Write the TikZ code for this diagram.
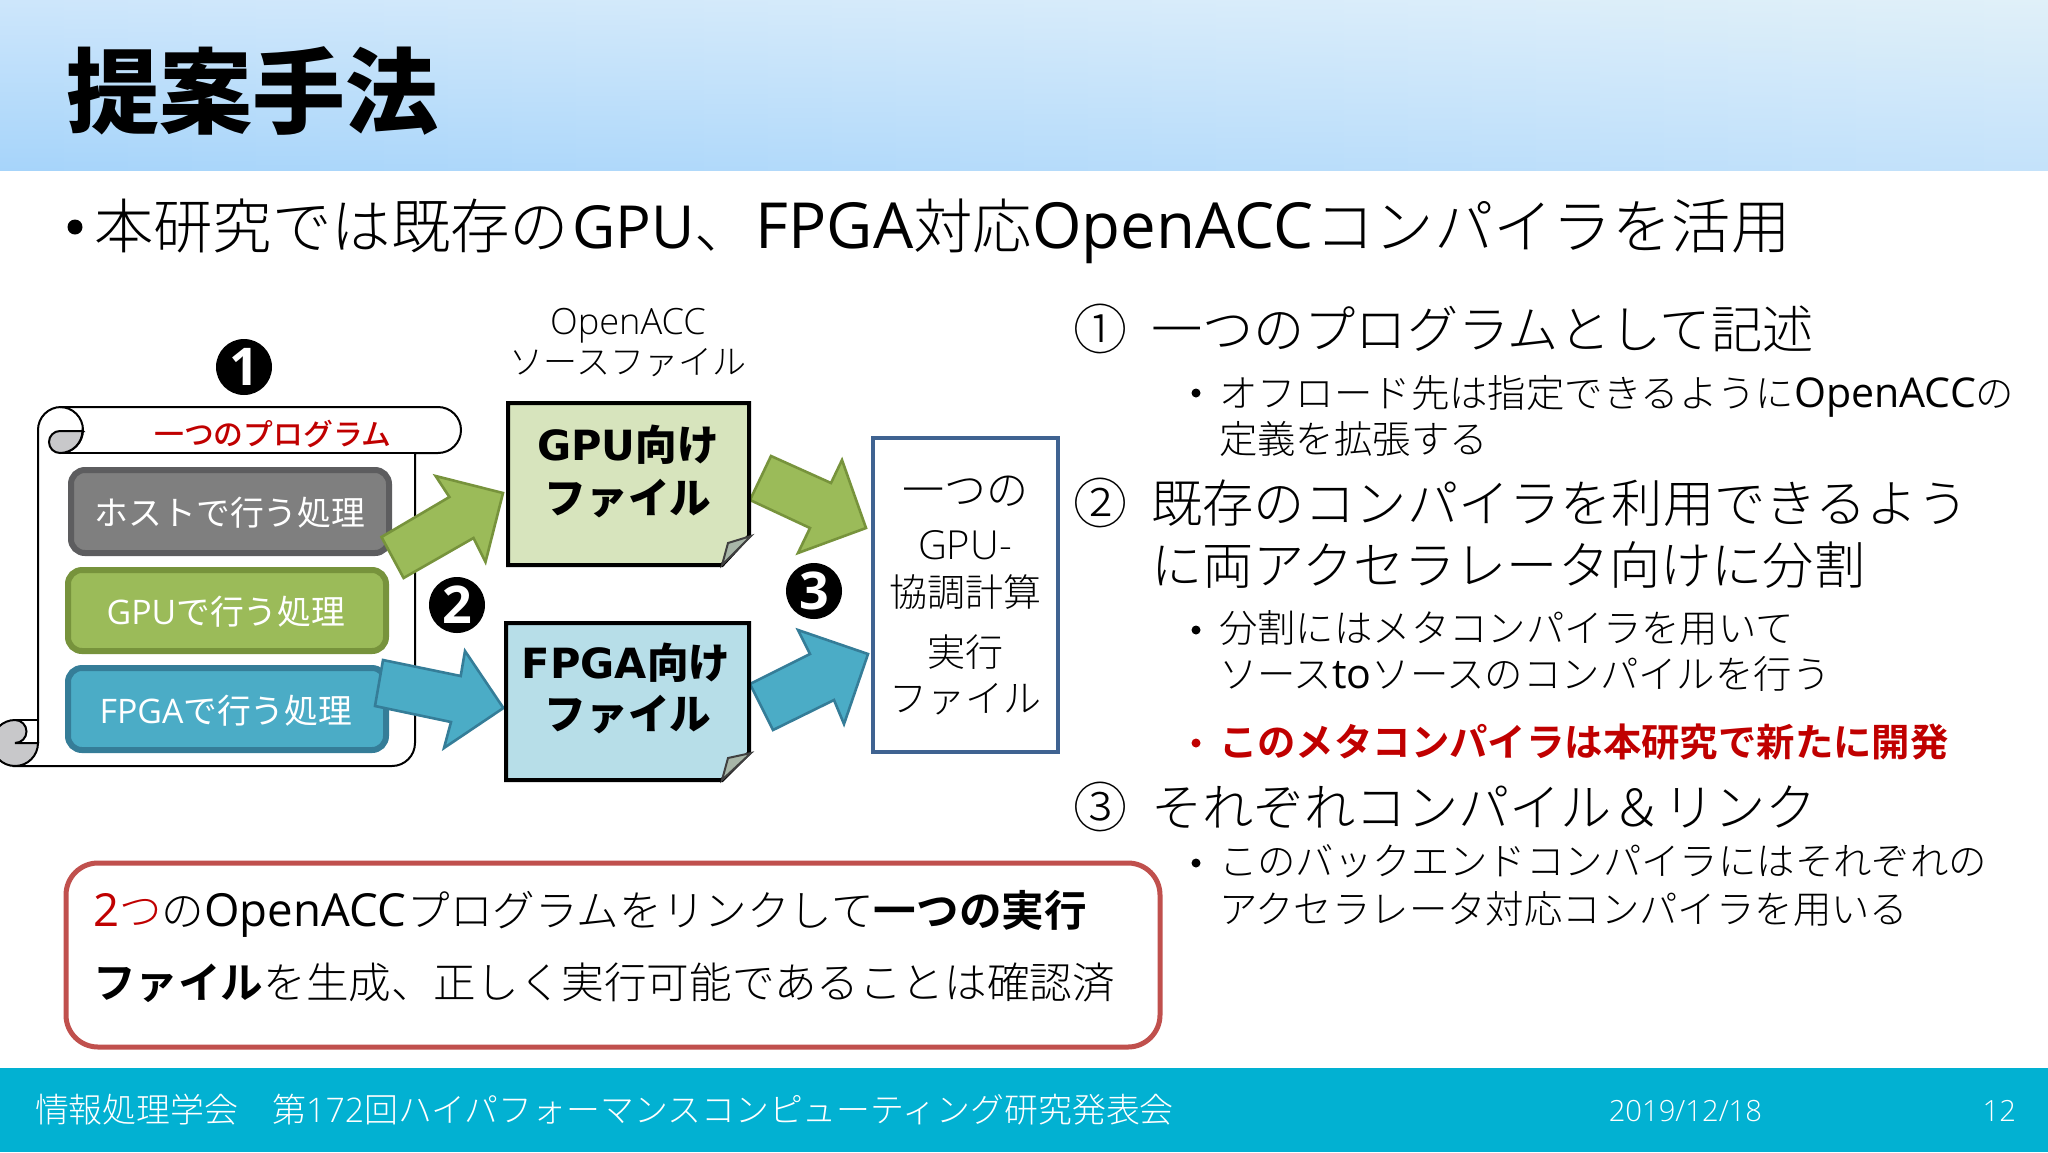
\documentclass[tikz,border=0pt]{standalone}
\usepackage{fontspec}
\setmainfont{Noto Sans CJK JP}[UprightFont=* Light,BoldFont=* Bold]
\newfontfamily\jpr{Noto Sans CJK JP}
\newfontfamily\jpm{Noto Sans CJK JP Medium}
\newfontfamily\jpk{Noto Sans CJK JP Black}
\newfontfamily\enz{Open Sans}
\newfontfamily\en{Open Sans}[Scale=1.07]
\newfontfamily\enl{Open Sans Light}
\newfontfamily\enb{Open Sans}[UprightFont=* Bold]
\newfontfamily\dvb{DejaVu Sans}[UprightFont=* Bold]
\definecolor{hdLT}{HTML}{CDE6FB}
\definecolor{hdLB}{HTML}{A6D4FA}
\definecolor{hdRT}{HTML}{E0F0F9}
\definecolor{hdRB}{HTML}{C4E2FA}
\definecolor{foot}{HTML}{02B1D2}
\definecolor{greyF}{HTML}{7F7F7F}
\definecolor{greyS}{HTML}{5D5D5F}
\definecolor{greenF}{HTML}{9BBB59}
\definecolor{greenS}{HTML}{77933C}
\definecolor{blueF}{HTML}{4BACC6}
\definecolor{blueS}{HTML}{357D98}
\definecolor{fileG}{HTML}{D7E4BD}
\definecolor{fileB}{HTML}{B7DEE8}
\definecolor{foldC}{HTML}{A8B6A8}
\definecolor{execS}{HTML}{3F6391}
\definecolor{redS}{HTML}{C0504D}
\definecolor{redT}{HTML}{C00000}
\definecolor{curl}{HTML}{C8C8CA}
\tikzset{
  jt/.style={inner sep=0pt,outer sep=0pt,font=\fontsize{#1}{#1}\selectfont,text height=0.88*#1 pt,text depth=0.12*#1 pt},
  filetxt/.style={inner sep=0pt,outer sep=0pt,font=\jpk\fontsize{20.8}{20.8}\selectfont,text height=18.3pt,text depth=2.5pt},
  procbox/.style={rounded corners=7pt,line width=3pt},
  filebox/.style={draw=black,line width=2pt,line join=miter},
  foldtri/.style={draw=black!75,fill=foldC,line width=1pt},
  blockG/.style={fill=greenF,draw=greenS,line width=1.3pt,line join=miter},
  blockB/.style={fill=blueF,draw=blueS,line width=1.3pt,line join=miter},
  numdot/.style={circle,fill=black,text=white,inner sep=0pt,minimum size=28pt,font=\enb\fontsize{26}{26}\selectfont},
  scrollline/.style={draw=black,line width=1pt},
}
\begin{document}
\begin{tikzpicture}[x=0.5pt,y=0.5pt,yscale=-1]
\useasboundingbox (0,0) rectangle (2048,1152);
\fill[white] (0,0) rectangle (2048,1152);
% header: a diagonal sheen, darkest at the bottom left, lightest at the top right
\foreach \i in {0,...,31}{
  \pgfmathsetmacro{\p}{(\i+0.5)*100/32}
  \pgfmathsetmacro{\xa}{\i*64}
  \pgfmathsetmacro{\xb}{\xa+66}
  \shade[top color=hdRT!\p!hdLT,bottom color=hdRB!\p!hdLB] (\xa,0) rectangle (\xb,170);
}
\fill[foot] (0,1068) rectangle (2048,1152);

\node[jt=46.5,anchor=west,font=\jpk\fontsize{46.5}{46.5}\selectfont] (title) at (66,91) {提案手法};
\fill[black] (75,227) circle[radius=7.5];
\node[jt=29.7,anchor=west] (lead) at (94,226) {本研究では既存の\hspace{1.5pt}{\enz GPU}、\hspace{1pt}{\en FPGA}対応{\en OpenACC}\hspace{1pt}コンパイラを活用};

% scroll
\path[scrollline,fill=white] (38,430) arc[start angle=180,end angle=270,radius=23] -- (438,407) arc[start angle=-90,end angle=90,radius=23] -- (415,453) -- (415,743) arc[start angle=0,end angle=90,radius=23] -- (15,766) -- (38,743) -- cycle;
\path[scrollline] (60,453) -- (438,453);
\path[scrollline] (60,407) arc[start angle=-90,end angle=90,radius=23];
\path[scrollline,fill=curl] (83,431) -- (60,431) arc[start angle=-90,end angle=-270,radius=11] arc[start angle=90,end angle=0,radius=22.5] -- cycle;
\path[scrollline] (38,720) -- (15,720);
\path[scrollline,fill=curl] (15,720) arc[start angle=-90,end angle=90,radius=11.5] -- (38,743) arc[start angle=0,end angle=90,radius=23] arc[start angle=90,end angle=270,radius=23] -- cycle;
\path[scrollline] (15,766) -- (392,766);

\node[jt=14.9,anchor=center,text=redT,font=\jpm\fontsize{14.9}{14.9}\selectfont] (prog) at (273,434) {一つのプログラム};

% process boxes
\draw[procbox,draw=greyS,fill=greyF] (71,470) rectangle (389,553);
\node[jt=16.9,text=white,font=\jpr\fontsize{16.9}{16.9}\selectfont] (host) at (230,513) {ホストで行う処理};
\draw[procbox,draw=greenS,fill=greenF] (68,570) rectangle (386,651);
\node[jt=16.9,text=white,font=\jpr\fontsize{16.9}{16.9}\selectfont] (gpuproc) at (226,612) {{\enz GPU}で行う処理};
\draw[procbox,draw=blueS,fill=blueF] (68,668) rectangle (386,750);
\node[jt=16.9,text=white,font=\jpr\fontsize{16.9}{16.9}\selectfont] (fpgaproc) at (226,711) {{\enz FPGA}で行う処理};

% block arrows
\path[blockG] (381.5,537) -- (403.6,578) -- (473.5,538) -- (485.5,562) -- (503,493) -- (435.6,476) -- (449.4,497) -- cycle;
\path[blockB] (383,660) -- (375,706) -- (451,722) -- (444,748) -- (503.4,708) -- (465,651) -- (460.7,676) -- cycle;
\path[blockG] (750,500) -- (771,456) -- (831,483) -- (842,460) -- (866,528) -- (798,553) -- (810,528) -- cycle;
\path[blockB] (750,684) -- (773,730) -- (834,700) -- (844,724) -- (868,654) -- (798,630) -- (810,654) -- cycle;

% files
\path[filebox,fill=fileG] (508,403) -- (749,403) -- (749,536) -- (722,565) -- (508,565) -- cycle;
\path[foldtri] (722,565) -- (728,543) -- (751,536) -- cycle;
\path[filebox,fill=fileB] (506,623) -- (749,623) -- (749,753) -- (722,780) -- (506,780) -- cycle;
\path[foldtri] (722,780) -- (728,758) -- (751,753) -- cycle;
\node[filetxt] (g1) at (628,445) {{\dvb GPU}向け};
\node[filetxt] (g2) at (628,498) {ファイル};
\node[filetxt] (f1) at (626,663) {{\dvb FPGA}向け};
\node[filetxt] (f2) at (628,714) {ファイル};
\node[jt=18.1] (oa) at (628,321) {\enl OpenACC};
\node[jt=17] (src) at (628,362) {ソースファイル};

% executable
\draw[draw=execS,line width=2pt,fill=white] (873,438) rectangle (1058,752);
\node[jt=21] (e1) at (965,490) {一つの};
\node[jt=20] (e2) at (965,544) {\enl GPU-};
\node[jt=19] (e3) at (965,592) {協調計算};
\node[jt=19] (e4) at (965,652) {実行};
\node[jt=19] (e5) at (965,698) {ファイル};

% numbers
\node[numdot] (n1) at (244,367) {1};
\node[numdot] (n2) at (457,605) {2};
\node[numdot] (n3) at (814,591) {3};

% right column
\node[jt=27] (c1) at (1100,329) {①};
\node[jt=25.6,anchor=west] (r1) at (1151,329) {一つのプログラムとして記述};
\fill[black] (1196,393) circle[radius=4.5];
\node[jt=19.2,anchor=west] (s1) at (1219,393) {オフロード先は指定できるように{\en OpenACC}の};
\node[jt=19.2,anchor=west] (s1b) at (1219,439) {定義を拡張する};
\node[jt=27] (c2) at (1100,503) {②};
\node[jt=25.6,anchor=west] (r2) at (1151,503) {既存のコンパイラを利用できるよう};
\node[jt=25.6,anchor=west] (r2b) at (1151,565) {に両アクセラレータ向けに分割};
\fill[black] (1196,630) circle[radius=4.5];
\node[jt=19.2,anchor=west] (s2) at (1219,628) {分割にはメタコンパイラを用いて};
\node[jt=19.2,anchor=west] (s2b) at (1219,674) {ソース{\en to}ソースのコンパイルを行う};
\fill[redT] (1196,743) circle[radius=4.5];
\node[jt=19.2,anchor=west,text=redT,font=\bfseries\fontsize{19.2}{19.2}\selectfont] (s3) at (1219,742) {このメタコンパイラは本研究で新たに開発};
\node[jt=27] (c3) at (1100,807) {③};
\node[jt=25.6,anchor=west] (r3) at (1151,807) {それぞれコンパイル＆リンク};
\fill[black] (1196,863) circle[radius=4.5];
\node[jt=19.2,anchor=west] (s4) at (1219,861) {このバックエンドコンパイラにはそれぞれの};
\node[jt=19.2,anchor=west] (s4b) at (1219,909) {アクセラレータ対応コンパイラを用いる};

% summary box
\draw[draw=redS,line width=2.5pt,fill=white,rounded corners=16pt] (66,863) rectangle (1160,1047);
\node[jt=21.3,anchor=west] (sum1) at (93,910) {\textcolor{redT}{{\en 2}つ}の{\en OpenACC}\hspace{1pt}プログラムをリンクして\textbf{一つの実行}};
\node[jt=21.3,anchor=west] (sum2) at (93,982) {\textbf{ファイル}を生成、正しく実行可能であることは確認済};

% footer
\node[jt=16.95,anchor=west,text=white] (ft1) at (35,1110) {情報処理学会　第{\enl 172}回ハイパフォーマンスコンピューティング研究発表会};
\node[jt=14.6,anchor=east,text=white] (ft2) at (1762,1110) {\enl 2019/12/18};
\node[jt=14.6,anchor=east,text=white] (ft3) at (2016,1110) {\enl 12};
\end{tikzpicture}
\end{document}
